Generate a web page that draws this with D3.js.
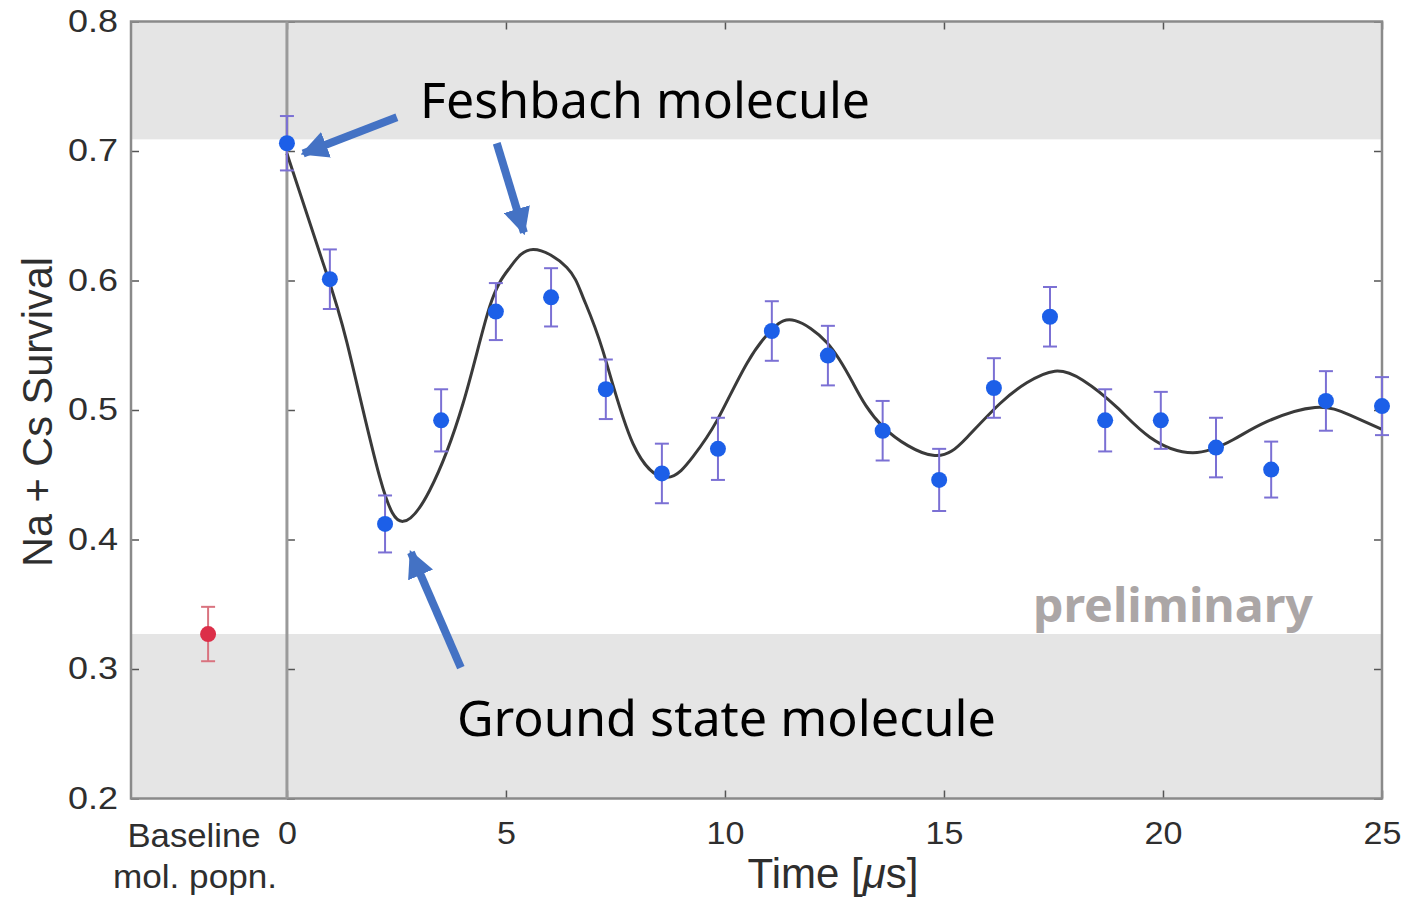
<!DOCTYPE html>
<html>
<head>
<meta charset="utf-8">
<script src="https://cdn.jsdelivr.net/npm/d3@7"></script>
<style>
  body { margin: 0; background: #fff; }
  svg { display: block; }
</style>
</head>
<body>
<svg id="chart" width="1427" height="898"></svg>
<script>
// measured data (time in us, survival fraction, error)
var times = [0, 0.98, 2.24, 3.52, 4.77, 6.03, 7.28, 8.56, 9.84, 11.07, 12.35,
	13.6, 14.89, 16.14, 17.42, 18.68, 19.95, 21.21, 22.47, 23.72, 25.0];
var survival = [0.706, 0.601, 0.412, 0.492, 0.576, 0.587, 0.516, 0.451, 0.470, 0.561, 0.542,
	0.484, 0.446, 0.517, 0.572, 0.492, 0.492, 0.471, 0.454, 0.507, 0.503];
var errors = [0.021, 0.023, 0.022, 0.024, 0.022, 0.0225, 0.023, 0.023, 0.024, 0.023, 0.023,
	0.023, 0.024, 0.023, 0.023, 0.024, 0.022, 0.023, 0.0216, 0.023, 0.0224];

// baseline molecule population point
var baseX = [-1.8];
var baseY = [0.327];
var baseErr = [0.021];

// fit curve
var fitT = [0, 0.82, 1.37, 2.12, 2.65, 3.26, 4.02, 4.63, 5.09, 5.62, 6.39, 6.76, 7.21,
	7.9, 8.68, 9.27, 9.82, 10.5, 11.1, 11.6, 12.33, 12.92, 13.61, 14.75, 15.53,
	16.28, 16.89, 17.53, 18.17, 18.95, 19.7, 20.68, 21.6, 22.37, 23.47, 24.27, 25.0];
var fitV = [0.698, 0.614, 0.552, 0.448, 0.414, 0.438, 0.505, 0.58, 0.61, 0.624, 0.61,
	0.587, 0.546, 0.474, 0.448, 0.464, 0.492, 0.536, 0.563, 0.569, 0.552, 0.521,
	0.487, 0.465, 0.479, 0.505, 0.521, 0.53, 0.523, 0.502, 0.479, 0.467, 0.477, 0.491,
	0.502, 0.496, 0.485];

// shaded bands (lower, upper)
var bandLow = [0.2, 0.327];
var bandHigh = [0.709, 0.8];

var xTicks = [0, 5, 10, 15, 20, 25];
var yTicks = [0.2, 0.3, 0.4, 0.5, 0.6, 0.7, 0.8];

var svg = d3.select('svg#chart');

var xScale = d3.scaleLinear().domain([-3.56, 25]).range([131, 1382]);
var yScale = d3.scaleLinear().domain([0.2, 0.8]).range([798.5, 21.5]);

var x0 = xScale(-3.56), x1 = xScale(25);
var yTop = yScale(0.8), yBot = yScale(0.2);

// bands
[bandLow, bandHigh].forEach(function (b) {
	svg.append('rect')
		.attr('x', x0)
		.attr('y', yScale(b[1]))
		.attr('width', x1 - x0)
		.attr('height', yScale(b[0]) - yScale(b[1]))
		.style('fill', '#e5e5e5');
});

// axes (MATLAB style, inward ticks)
function stretchText(sel, factor) {
	sel.each(function () {
		var w = this.getComputedTextLength();
		this.setAttribute('textLength', w * factor);
		this.setAttribute('lengthAdjust', 'spacingAndGlyphs');
	});
}

var xAxis = d3.axisBottom(xScale).tickValues(xTicks).tickSizeInner(-8).tickSizeOuter(0).tickPadding(23);
var gx = svg.append('g')
	.attr('transform', 'translate(0,' + yBot + ')')
	.call(xAxis);
gx.selectAll('text').style('font-size', '31px');
stretchText(gx.selectAll('text'), 1.1);

var xTop = d3.axisTop(xScale).tickValues(xTicks).tickSizeInner(-8).tickSizeOuter(0).tickFormat('');
svg.append('g')
	.attr('transform', 'translate(0,' + yTop + ')')
	.call(xTop);

var yAxis = d3.axisLeft(yScale).tickValues(yTicks).tickSizeInner(-8).tickSizeOuter(0).tickPadding(13)
	.tickFormat(d3.format('.1f'));
var gy = svg.append('g')
	.attr('transform', 'translate(' + x0 + ',0)')
	.call(yAxis);
gy.selectAll('text').style('font-size', '31px');
stretchText(gy.selectAll('text'), 1.16);

var yZero = d3.axisLeft(yScale).tickValues(yTicks).tickSizeInner(-8).tickSizeOuter(0).tickFormat('');
svg.append('g')
	.attr('transform', 'translate(' + xScale(0) + ',0)')
	.call(yZero);

var yRight = d3.axisRight(yScale).tickValues(yTicks).tickSizeInner(-8).tickSizeOuter(0).tickFormat('');
svg.append('g')
	.attr('transform', 'translate(' + x1 + ',0)')
	.call(yRight);

svg.selectAll('.domain').remove();
svg.selectAll('.tick line').style('stroke', '#555').style('stroke-width', 1.5);
svg.selectAll('.tick text')
	.style('font-family', 'Liberation Sans, Arial, sans-serif')
	.style('fill', '#2e2e2e');

// frame and x = 0 line
svg.append('rect')
	.attr('x', x0)
	.attr('y', yTop)
	.attr('width', x1 - x0)
	.attr('height', yBot - yTop)
	.style('fill', 'none')
	.style('stroke', '#8a8a8a')
	.style('stroke-width', 2.5);

svg.append('line')
	.attr('x1', xScale(0))
	.attr('x2', xScale(0))
	.attr('y1', yTop)
	.attr('y2', yBot)
	.style('stroke', '#9a9a9a')
	.style('stroke-width', 3);

// axis labels
svg.append('text')
	.attr('transform', 'translate(52,' + ((257 + 567) / 2) + ') rotate(-90)')
	.attr('text-anchor', 'middle')
	.attr('textLength', 310)
	.attr('lengthAdjust', 'spacingAndGlyphs')
	.style('font-family', 'Liberation Sans, Arial, sans-serif')
	.style('font-size', '42px')
	.style('fill', '#2e2e2e')
	.text('Na + Cs Survival');

var tl = svg.append('text')
	.attr('x', 833)
	.attr('y', 888)
	.attr('text-anchor', 'middle')
	.style('font-family', 'Liberation Sans, Arial, sans-serif')
	.style('font-size', '42px')
	.style('fill', '#2e2e2e');
tl.append('tspan').text('Time [');
tl.append('tspan').style('font-style', 'italic').text('\u03bc');
tl.append('tspan').text('s]');

svg.append('text')
	.attr('x', 194)
	.attr('y', 847)
	.attr('text-anchor', 'middle')
	.attr('textLength', 133)
	.attr('lengthAdjust', 'spacingAndGlyphs')
	.style('font-family', 'Liberation Sans, Arial, sans-serif')
	.style('font-size', '33px')
	.style('fill', '#2e2e2e')
	.text('Baseline');

svg.append('text')
	.attr('x', 195)
	.attr('y', 888)
	.attr('text-anchor', 'middle')
	.attr('textLength', 164)
	.attr('lengthAdjust', 'spacingAndGlyphs')
	.style('font-family', 'Liberation Sans, Arial, sans-serif')
	.style('font-size', '33px')
	.style('fill', '#2e2e2e')
	.text('mol. popn.');

// fit curve
var fitData = fitT.map(function (t, i) { return [t, fitV[i]]; });
var line = d3.line()
	.x(function (d) { return xScale(d[0]); })
	.y(function (d) { return yScale(d[1]); })
	.curve(d3.curveNatural);

svg.append('path')
	.datum(fitData)
	.attr('d', line)
	.style('fill', 'none')
	.style('stroke', '#3a3a3a')
	.style('stroke-width', 3);

// error bars + points
function drawPoints(xs, ys, es, barColor, dotColor) {
	var pts = xs.map(function (t, i) { return { t: t, v: ys[i], e: es[i] }; });
	var g = svg.append('g')
		.selectAll('g')
		.data(pts)
		.enter()
		.append('g');

	g.append('line')
		.attr('x1', function (d) { return xScale(d.t); })
		.attr('x2', function (d) { return xScale(d.t); })
		.attr('y1', function (d) { return yScale(d.v + d.e); })
		.attr('y2', function (d) { return yScale(d.v - d.e); })
		.style('stroke', barColor)
		.style('stroke-width', 2);

	[1, -1].forEach(function (s) {
		g.append('line')
			.attr('x1', function (d) { return xScale(d.t) - 7; })
			.attr('x2', function (d) { return xScale(d.t) + 7; })
			.attr('y1', function (d) { return yScale(d.v + s * d.e); })
			.attr('y2', function (d) { return yScale(d.v + s * d.e); })
			.style('stroke', barColor)
			.style('stroke-width', 2);
	});

	g.append('circle')
		.attr('cx', function (d) { return xScale(d.t); })
		.attr('cy', function (d) { return yScale(d.v); })
		.attr('r', 8)
		.style('fill', dotColor);
}

drawPoints(times, survival, errors, '#7b70d4', '#1c5fe8');
drawPoints(baseX, baseY, baseErr, '#d9737f', '#dc2f49');

// annotations
var arrowColor = '#4472c4';
svg.append('defs').append('marker')
	.attr('id', 'head')
	.attr('viewBox', '0 0 10 10')
	.attr('refX', 9)
	.attr('refY', 5)
	.attr('markerWidth', 3.4)
	.attr('markerHeight', 3.4)
	.attr('orient', 'auto')
	.append('path')
	.attr('d', 'M0,0 L10,5 L0,10 z')
	.style('fill', arrowColor);

var arrows = [
	[2.51, 0.726, 0.37, 0.698],
	[4.79, 0.706, 5.41, 0.637],
	[3.97, 0.301, 2.83, 0.390]
];
svg.selectAll('line.arrow')
	.data(arrows)
	.enter()
	.append('line')
	.attr('class', 'arrow')
	.attr('x1', function (d) { return xScale(d[0]); })
	.attr('y1', function (d) { return yScale(d[1]); })
	.attr('x2', function (d) { return xScale(d[2]); })
	.attr('y2', function (d) { return yScale(d[3]); })
	.attr('marker-end', 'url(#head)')
	.style('stroke', arrowColor)
	.style('stroke-width', 8);

svg.append('text')
	.attr('x', xScale(3.04))
	.attr('y', yScale(0.7255))
	.attr('textLength', 450)
	.attr('lengthAdjust', 'spacingAndGlyphs')
	.style('font-family', 'Noto Sans, Open Sans, sans-serif')
	.style('font-size', '49px')
	.style('fill', '#000')
	.text('Feshbach molecule');

svg.append('text')
	.attr('x', xScale(3.88))
	.attr('y', yScale(0.2483))
	.attr('textLength', 539)
	.attr('lengthAdjust', 'spacingAndGlyphs')
	.style('font-family', 'Noto Sans, Open Sans, sans-serif')
	.style('font-size', '49px')
	.style('fill', '#000')
	.text('Ground state molecule');

svg.append('text')
	.attr('x', xScale(17.03))
	.attr('y', yScale(0.3363))
	.attr('textLength', 280)
	.attr('lengthAdjust', 'spacingAndGlyphs')
	.style('font-family', 'Noto Sans, Open Sans, sans-serif')
	.style('font-size', '46px')
	.style('font-weight', 'bold')
	.style('fill', '#aba6a6')
	.text('preliminary');
</script>
</body>
</html>
